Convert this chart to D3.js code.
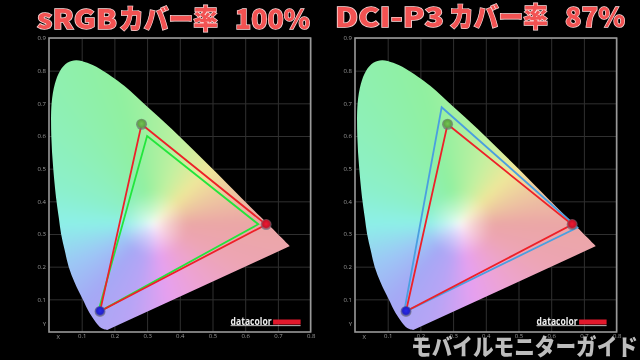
<!DOCTYPE html>
<html>
<head>
<meta charset="utf-8">
<script src="https://cdn.jsdelivr.net/npm/d3@7"></script>
<style>
  html, body { margin: 0; background: #000; }
  svg { display: block; }
  .tick text { font-family: "Open Sans", sans-serif; font-size: 6px; fill: #9a9a9a; }
  .grid line { stroke: #303030; stroke-width: 1; }
  .titulo { font-family: "Noto Sans CJK JP", sans-serif; font-weight: 900; font-size: 27px;
    fill: #f25252; stroke: #fbdcdc; stroke-width: 1.4px; paint-order: stroke; }
  .marca { font-family: "Noto Sans CJK JP", sans-serif; font-weight: 900; font-size: 23px; fill: #bdbdbd; }
  .logo { font-family: "Open Sans", sans-serif; font-weight: 700; font-size: 11px; fill: #f0f0f0; }
</style>
</head>
<body>
<div id="chart"></div>
<script>
// borde del diagrama cromatico (x, y)
const locus = [
  [0.178, 0.006], [0.160, 0.012], [0.143, 0.030], [0.124, 0.058], [0.103, 0.100], [0.079, 0.150],
  [0.060, 0.200], [0.048, 0.250], [0.037, 0.300], [0.030, 0.350], [0.023, 0.400], [0.013, 0.500],
  [0.007, 0.600], [0.008, 0.700], [0.018, 0.760], [0.034, 0.800], [0.056, 0.824], [0.083, 0.832],
  [0.117, 0.824], [0.155, 0.806], [0.230, 0.754], [0.300, 0.690], [0.373, 0.624], [0.444, 0.555],
  [0.513, 0.487], [0.575, 0.424], [0.627, 0.372], [0.666, 0.334], [0.737, 0.263]
];

// triangulos
const measured = [[0.283, 0.636], [0.664, 0.329], [0.156, 0.063]];
const srgb = [[0.300, 0.600], [0.640, 0.330], [0.150, 0.060]];
const dciP3 = [[0.265, 0.688], [0.680, 0.320], [0.150, 0.060]];
const ballColors = ['#5fa544', '#c8142a', '#2222c8'];

// ticks
const xTicks = [0.1, 0.2, 0.3, 0.4, 0.5, 0.6, 0.7, 0.8];
const yTicks = [0.1, 0.2, 0.3, 0.4, 0.5, 0.6, 0.7, 0.8, 0.9];

// trozos del titulo
const titleLeft = ['sRGB', 'カバー率', '100%'];
const titleRight = ['DCI-P3', 'カバー率', '87%'];

// color segun el angulo alrededor del punto blanco
const whitePoint = [0.32, 0.333];
const hueAngles = [0, 45, 70, 105, 160, 180, 205, 230, 255, 280, 305, 335, 360];
const hueColors = ['#eba6a6', '#efe79a', '#c4f0a0', '#90f0a0', '#8cf0cc', '#8df0e8', '#9cc8f5',
  '#a5a8f5', '#b8a4f5', '#e6a0f0', '#eda3d4', '#eda5b4', '#eba6a6'];

const width = 640;
const height = 360;
const pad = 14; // la imagen sobresale del marco para que el blur no se note en el borde

const svg = d3.select('#chart')
  .append('svg')
  .attr('width', width)
  .attr('height', height)
  .style('filter', 'blur(0.45px)');

svg.append('rect')
  .attr('width', width)
  .attr('height', height)
  .attr('fill', '#000');

const hue = d3.scaleLinear()
  .domain(hueAngles)
  .range(hueColors)
  .interpolate(d3.interpolateRgb);

const defs = svg.append('defs');

ballColors.forEach((c, i) => {
  const g = defs.append('radialGradient')
    .attr('id', `ball${i}`)
    .attr('cx', '50%')
    .attr('cy', '45%');
  g.append('stop').attr('offset', '0%').attr('stop-color', d3.color(c).brighter(0.5));
  g.append('stop').attr('offset', '62%').attr('stop-color', c);
  g.append('stop').attr('offset', '100%').attr('stop-color', '#6d6d7a').attr('stop-opacity', 0.7);
});

// pinta los colores en un canvas y lo devuelve como imagen
const gamutImage = (x, y) => {
  const [x0, x1] = x.range();
  const [y1, y0] = y.range();
  const w = Math.ceil(x1 - x0) + pad * 2;
  const h = Math.ceil(y1 - y0) + pad * 2;
  const canvas = document.createElement('canvas');
  canvas.width = w;
  canvas.height = h;
  const ctx = canvas.getContext('2d');
  const img = ctx.createImageData(w, h);
  for (let j = 0; j < h; j++) {
    for (let i = 0; i < w; i++) {
      const dx = x.invert(x0 - pad + i) - whitePoint[0];
      const dy = y.invert(y0 - pad + j) - whitePoint[1];
      const r = Math.hypot(dx, dy);
      let a = Math.atan2(dy, dx) * 180 / Math.PI;
      if (a < 0) a += 360;
      const c = d3.rgb(hue(a));
      const t = Math.min(1, Math.pow(r / 0.1, 0.7));
      const k = (j * w + i) * 4;
      img.data[k] = 255 + (c.r - 255) * t;
      img.data[k + 1] = 255 + (c.g - 255) * t;
      img.data[k + 2] = 255 + (c.b - 255) * t;
      img.data[k + 3] = 255;
    }
  }
  ctx.putImageData(img, 0, 0);
  return { href: canvas.toDataURL(), w, h };
};

const panel = (id, left, reference, refColor) => {
  const x = d3.scaleLinear().domain([0, 0.8]).range([left, left + 261.6]);
  const y = d3.scaleLinear().domain([0, 0.9]).range([332, 38]);
  const g = svg.append('g').attr('class', id);

  // rejilla
  g.append('g')
    .attr('class', 'grid')
    .attr('transform', 'translate(0,332)')
    .call(d3.axisBottom(x).tickValues(xTicks).tickSize(-294).tickFormat(''))
    .call(s => s.select('.domain').remove());
  g.append('g')
    .attr('class', 'grid')
    .attr('transform', `translate(${left},0)`)
    .call(d3.axisLeft(y).tickValues(yTicks).tickSize(-261.6).tickFormat(''))
    .call(s => s.select('.domain').remove());

  // etiquetas
  g.append('g')
    .attr('transform', 'translate(0,332)')
    .call(d3.axisBottom(x).tickValues(xTicks).tickSize(0).tickPadding(2).tickFormat(d3.format('.1f')))
    .call(s => s.select('.domain').remove());
  g.append('g')
    .attr('transform', `translate(${left},0)`)
    .call(d3.axisLeft(y).tickValues(yTicks).tickSize(0).tickPadding(3).tickFormat(d3.format('.1f')))
    .call(s => s.select('.domain').remove());
  g.append('g')
    .attr('class', 'tick')
    .append('text')
    .attr('x', x(0.028))
    .attr('y', 339)
    .attr('text-anchor', 'middle')
    .text('X');
  g.append('g')
    .attr('class', 'tick')
    .append('text')
    .attr('x', left - 3)
    .attr('y', y(0.024) + 2)
    .attr('text-anchor', 'end')
    .text('Y');

  // marco
  g.append('rect')
    .attr('x', x(0))
    .attr('y', y(0.9))
    .attr('width', x(0.8) - x(0))
    .attr('height', y(0) - y(0.9))
    .attr('fill', 'none')
    .attr('stroke', '#999')
    .attr('stroke-width', 1.6);

  // el diagrama (el blur va en la imagen y el recorte en el grupo)
  const curve = d3.line()
    .x(d => x(d[0]))
    .y(d => y(d[1]))
    .curve(d3.curveCatmullRom);
  defs.append('clipPath')
    .attr('id', `clip-${id}`)
    .append('path')
    .attr('d', curve(locus) + 'Z');
  const gamut = gamutImage(x, y);
  g.append('g')
    .attr('clip-path', `url(#clip-${id})`)
    .append('image')
    .attr('x', x(0) - pad)
    .attr('y', y(0.9) - pad)
    .attr('width', gamut.w)
    .attr('height', gamut.h)
    .attr('href', gamut.href)
    .style('filter', 'blur(4px)');

  // triangulos
  const tri = d3.line().x(d => x(d[0])).y(d => y(d[1])).curve(d3.curveLinearClosed);
  g.append('path')
    .attr('d', tri(reference))
    .attr('fill', 'none')
    .attr('stroke', refColor)
    .attr('stroke-width', 1.8);
  g.append('path')
    .attr('d', tri(measured))
    .attr('fill', 'none')
    .attr('stroke', '#ee2028')
    .attr('stroke-width', 1.8);

  g.selectAll('circle')
    .data(measured)
    .join('circle')
    .attr('cx', d => x(d[0]))
    .attr('cy', d => y(d[1]))
    .attr('r', 5.5)
    .attr('fill', (d, i) => `url(#ball${i})`);

  // logo
  g.append('text')
    .attr('class', 'logo')
    .attr('x', x(0.8) - 80)
    .attr('y', 324.5)
    .attr('textLength', 41)
    .attr('lengthAdjust', 'spacingAndGlyphs')
    .text('datacolor');
  g.append('rect')
    .attr('x', x(0.8) - 37.5)
    .attr('y', 319.5)
    .attr('width', 27.5)
    .attr('height', 5)
    .attr('fill', '#e2192c');
  g.append('rect')
    .attr('x', x(0.8) - 80)
    .attr('y', 325.3)
    .attr('width', 70)
    .attr('height', 0.8)
    .attr('fill', '#e8e8e8');
};

panel('izq', 49, srgb, '#22e63c');
panel('der', 355, dciP3, '#4a9fe0');

// titulos: cada trozo con su sitio y su ancho
const titlePiece = (text, left, w, base) => {
  svg.append('text')
    .attr('class', 'titulo')
    .attr('x', left)
    .attr('y', base)
    .attr('textLength', w)
    .attr('lengthAdjust', 'spacingAndGlyphs')
    .text(text);
};

titlePiece(titleLeft[0], 37, 80, 29);
titlePiece(titleLeft[1], 119, 99, 29);
titlePiece(titleLeft[2], 235, 75, 29);
titlePiece(titleRight[0], 335, 109, 27);
titlePiece(titleRight[1], 449, 99, 27);
titlePiece(titleRight[2], 565, 60, 27);

svg.append('text')
  .attr('class', 'marca')
  .attr('x', 411)
  .attr('y', 355)
  .attr('textLength', 227)
  .attr('lengthAdjust', 'spacingAndGlyphs')
  .text('モバイルモニターガイド');
</script>
</body>
</html>
